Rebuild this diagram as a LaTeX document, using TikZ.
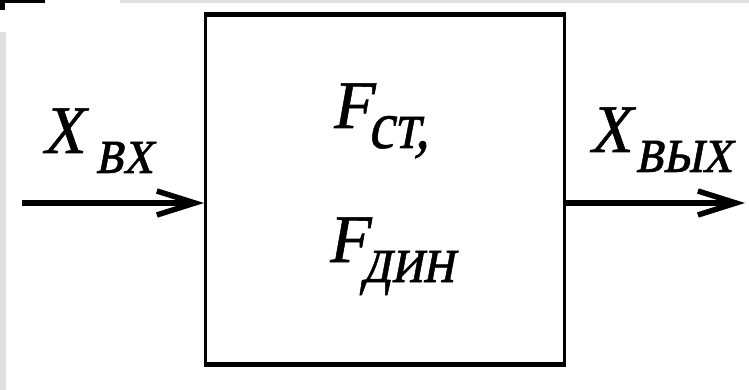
\documentclass[tikz,border=0pt]{standalone}
\usepackage{fontspec}
\setmainfont{Liberation Serif}
\newfontfamily\lblfont[FakeBold=0.8]{Liberation Serif}
\newfontfamily\slfont[FakeSlant=0.22,FakeBold=0.8]{Liberation Serif}
\usetikzlibrary{arrows.meta}
\newcommand{\subtxt}[1]{\lower20pt\hbox{\scalebox{0.86}[1]{\slfont\upshape #1}}}
\begin{document}
\begin{tikzpicture}[x=1pt,y=-1pt,
  lbl/.style={inner sep=0pt, anchor=base west, font=\fontsize{68}{68}\selectfont\lblfont\itshape},
  sig/.style={line width=6pt, -{Straight Barb[length=38pt,width=24pt,line width=5.5pt]}},
  blk/.style={draw, line width=3pt, minimum width=359pt, minimum height=348pt, inner sep=0pt}]
\useasboundingbox (0,0) rectangle (749,390);
\fill[white] (0,0) rectangle (749,390);
% slide background remnants
\fill[black] (0,0) rectangle (45,3);
\fill[black] (0,0) rectangle (5,10);
\fill[black!12] (120,0) rectangle (749,3);
\fill[black!12] (0,32) rectangle (6,390);
% block
\node[blk] (box) at (385,189.5) {};
\draw[line width=5pt] ([yshift=-1pt]box.north west) -- ([yshift=-1pt]box.north east);
\draw[line width=5pt] ([yshift=1pt]box.south west) -- ([yshift=1pt]box.south east);
% connectors
\coordinate (inL) at (22,203);
\coordinate (outR) at (745,203);
\draw[sig] (inL) -- (box.west |- inL);
\draw[sig] (box.east |- outR) -- (outR);
% labels
\node[lbl] (xin) at (45,153) {X\kern9pt\subtxt{вх}};
\node[lbl] (fst) at (334,128) {F\kern-8pt\subtxt{ст,}};
\node[lbl] (fdin) at (330,262) {F\kern-10pt\subtxt{дин}};
\node[lbl] (xout) at (592,152) {X\kern2pt\subtxt{вых}};
\end{tikzpicture}
\end{document}
